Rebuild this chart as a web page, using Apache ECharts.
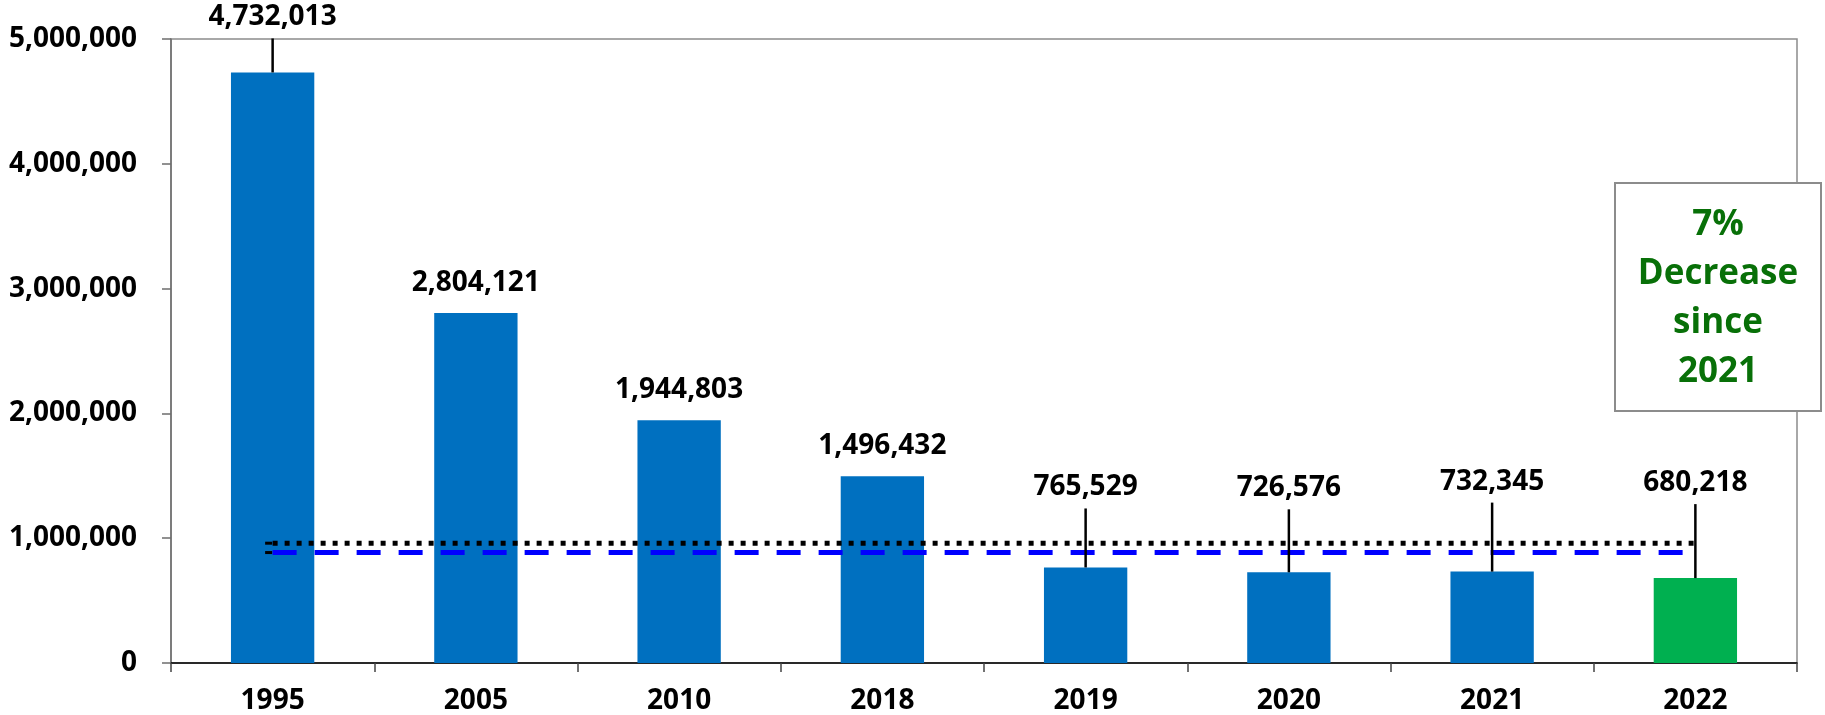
<!DOCTYPE html>
<html>
<head>
<meta charset="utf-8">
<script src="https://cdn.jsdelivr.net/npm/echarts@6/dist/echarts.min.js"></script>
<style>
  html, body { margin: 0; padding: 0; background: #fff; }
  #chart { width: 1825px; height: 715px; }
</style>
</head>
<body>
<div id="chart"></div>
<script>
// Yearly totals
const years = ['1995', '2005', '2010', '2018', '2019', '2020', '2021', '2022'];
const totals = [4732013, 2804121, 1944803, 1496432, 765529, 726576, 732345, 680218];
// Reference levels drawn across the chart
const levelDotted = [960000, 960000, 960000, 960000, 960000, 960000, 960000, 960000];
const levelDashed = [885000, 885000, 885000, 885000, 885000, 885000, 885000, 885000];
// Y axis ticks
const yTicks = [0, 1000000, 2000000, 3000000, 4000000, 5000000];

// Extra pixels a value label is lifted above its bar (drawn with a leader line)
const leaderLift = [25, 0, 0, 0, 50, 54, 60, 65];

const FONT = '"Open Sans", Lato, sans-serif';
const fmt = v => Number(v).toLocaleString('en-US');

const chart = echarts.init(document.getElementById('chart'), null, { renderer: 'canvas' });

const barData = totals.map((v, i) => i === years.length - 1
  ? { value: v, itemStyle: { color: '#00B050' } }
  : v);

function withStub(arr) {
  return arr.map((v, i) => i === 0
    ? { value: v, symbol: 'rect', symbolSize: [7, 3], symbolOffset: [-4, 0], itemStyle: { color: '#000' } }
    : { value: v, symbol: 'none' });
}

chart.setOption({
  animation: false,
  grid: {
    left: 171, right: 28, top: 39, bottom: 52,
    show: true, borderColor: '#8c8c8c', borderWidth: 1.5, backgroundColor: 'transparent'
  },
  xAxis: {
    type: 'category',
    data: years,
    boundaryGap: true,
    axisLine: { lineStyle: { color: '#000', width: 1.5 } },
    axisTick: { show: true, length: 9, lineStyle: { color: '#444', width: 1.5 } },
    axisLabel: { color: '#000', fontFamily: FONT, fontWeight: 'bold', fontSize: 28, margin: 24 }
  },
  yAxis: {
    type: 'value',
    min: yTicks[0],
    max: yTicks[yTicks.length - 1],
    interval: yTicks[1] - yTicks[0],
    axisLine: { show: true, lineStyle: { color: '#6e6e6e', width: 1.5 } },
    axisTick: { show: true, length: 9, lineStyle: { color: '#6e6e6e', width: 1.5 } },
    splitLine: { show: false },
    axisLabel: {
      color: '#000', fontFamily: FONT, fontWeight: 'bold', fontSize: 28, margin: 34,
      formatter: v => fmt(v)
    }
  },
  series: [
    {
      type: 'bar',
      data: barData,
      barWidth: '41%',
      itemStyle: { color: '#0070C0' },
      z: 2
    },
    {
      type: 'line',
      data: withStub(levelDotted),
      lineStyle: { color: '#000', width: 5, type: [5, 7], cap: 'butt' },
      showSymbol: true,
      z: 3
    },
    {
      type: 'line',
      data: withStub(levelDashed),
      lineStyle: { color: '#0000FF', width: 5, type: [24, 18], cap: 'butt' },
      showSymbol: true,
      z: 3
    },
    {
      // value labels, with leader lines where the label is lifted
      type: 'custom',
      data: totals.map((v, i) => [i, v]),
      encode: { x: 0, y: 1 },
      z: 5,
      renderItem: function (params, api) {
        const i = api.value(0);
        const v = api.value(1);
        const top = api.coord([i, v]);
        const lift = leaderLift[i];
        const cy = top[1] - 30 - lift;
        const children = [];
        if (lift > 0) {
          children.push({
            type: 'line',
            shape: { x1: top[0], y1: top[1], x2: top[0], y2: cy + 21 },
            style: { stroke: '#000', lineWidth: 2.5 }
          });
        }
        children.push({
          type: 'text',
          style: {
            text: fmt(v), x: top[0], y: cy,
            align: 'center', verticalAlign: 'middle',
            font: 'bold 28px ' + FONT, fill: '#000'
          }
        });
        return { type: 'group', children: children };
      }
    }
  ],
  graphic: [
    {
      type: 'rect',
      x: 1615, y: 183, z: 10,
      shape: { x: 0, y: 0, width: 206, height: 228 },
      style: { fill: '#fff', stroke: '#8c8c8c', lineWidth: 2 }
    },
    {
      type: 'text',
      z: 11,
      x: 1718, y: 299,
      style: {
        text: '7%\nDecrease\nsince\n2021',
        align: 'center', verticalAlign: 'middle',
        font: 'bold 35px ' + FONT, fill: '#087008', lineHeight: 49
      }
    }
  ]
});
</script>
</body>
</html>
